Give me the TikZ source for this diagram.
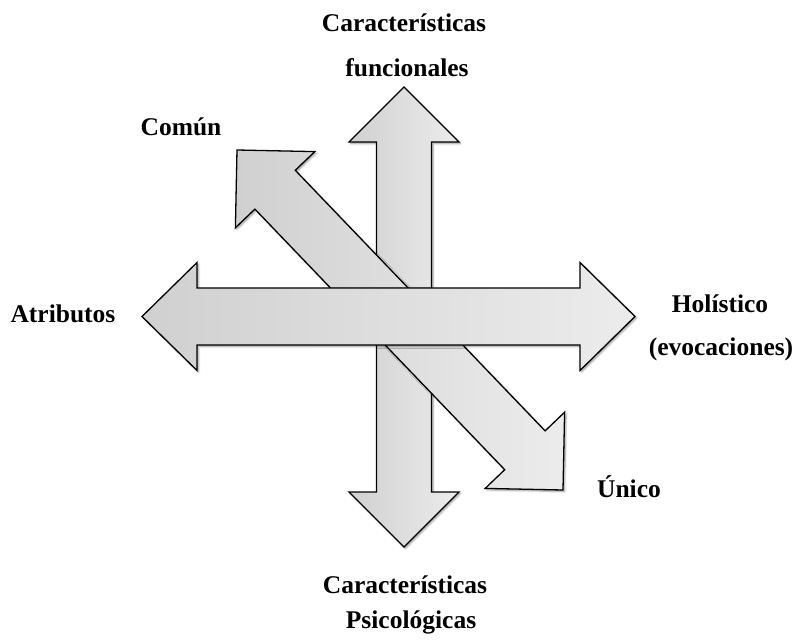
\documentclass[tikz,border=0pt]{standalone}
\usepackage{fontspec}
\setmainfont{Liberation Serif}
\usetikzlibrary{shadows.blur}
\begin{document}
\begin{tikzpicture}[x=1pt,y=-1pt,
  arrowshape/.style={draw=black, line width=1.3pt, line join=miter,
    left color={rgb,255:red,208;green,208;blue,208},
    right color={rgb,255:red,236;green,236;blue,236},
    blur shadow={shadow xshift=1.5pt, shadow yshift=-1.5pt, shadow blur steps=6, shadow opacity=40}},
  lab/.style={font=\fontsize{25.5}{28}\selectfont\bfseries, anchor=base, inner sep=0pt}]
\useasboundingbox (0,0) rectangle (798,642);
% vertical double arrow
\path[arrowshape] (404,87) -- (459,142) -- (431.5,142) -- (431.5,492) -- (459,492)
  -- (404,547) -- (349,492) -- (376.5,492) -- (376.5,142) -- (349,142) -- cycle;
% diagonal double arrow
\path[arrowshape] (237,150) -- (314.8,151.6) -- (295.3,170.3) -- (545.1,430.9)
  -- (564.6,412.2) -- (563,490) -- (485.2,488.4) -- (504.7,469.7)
  -- (254.9,209.1) -- (235.4,227.8) -- cycle;
% horizontal double arrow
\path[arrowshape] (142,316.5) -- (197,262.5) -- (197,288) -- (580,288) -- (580,262.5)
  -- (635,316.5) -- (580,370.5) -- (580,345) -- (197,345) -- (197,370.5) -- cycle;
% labels
\node[lab] (t1) at (404,32) {Características};
\node[lab] (t2) at (407,77) {funcionales};
\node[lab] (comun) at (181,135) {Común};
\node[lab] (atr) at (63,322) {Atributos};
\node[lab] (hol) at (720,312) {Holístico};
\node[lab] (evo) at (721,355) {(evocaciones)};
\node[lab] (unico) at (629,497) {Único};
\node[lab] (b1) at (405,593) {Características};
\node[lab] (b2) at (411,628) {Psicológicas};
\end{tikzpicture}
\end{document}
